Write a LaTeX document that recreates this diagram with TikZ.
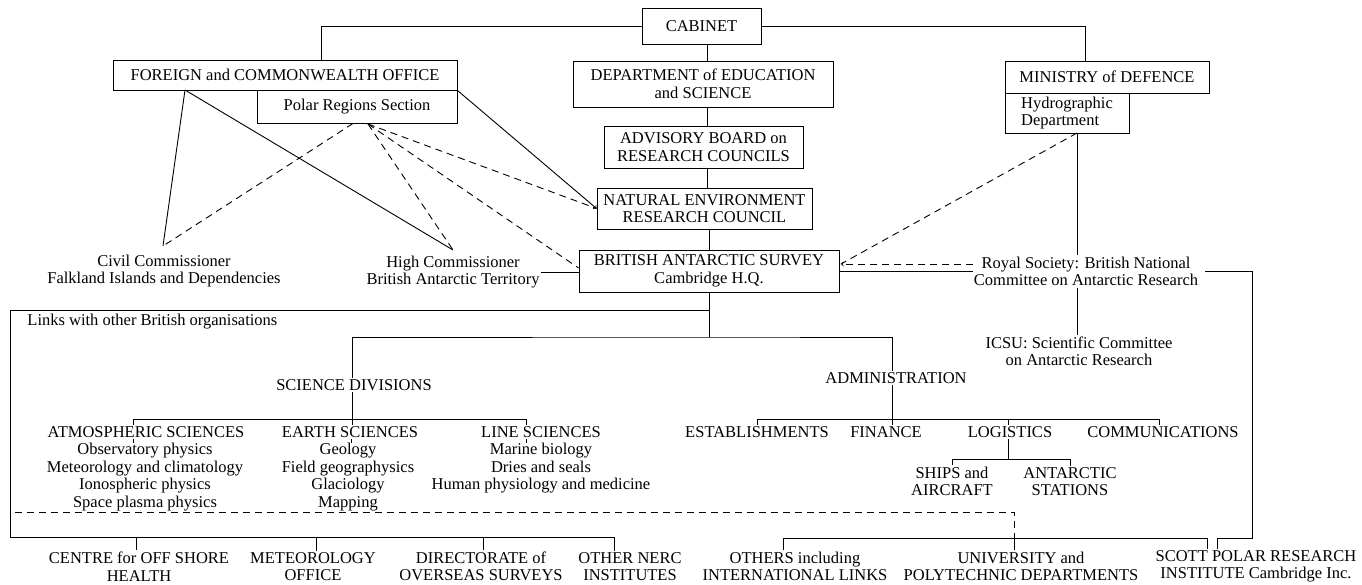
\documentclass[tikz,border=0pt]{standalone}
\usepackage{fontspec}
\setmainfont{Liberation Serif}
\usepackage{tikz}

\begin{document}
\begin{tikzpicture}[x=1pt,y=-1pt,>=to,line width=0.9pt,
		every node/.style={font=\fontsize{16.5}{17.5}\selectfont},
		box/.style={draw,align=center,inner sep=0pt},
		lbl/.style={align=center,inner sep=1pt},
		link/.style={dash pattern=on 7pt off 5pt}]
			\useasboundingbox (0,0) rectangle (1362,585);
			%%%	Government
			\node[box,minimum width=119pt,minimum height=36pt] (cab) at (701.5,26) {CABINET};
			\node[box,minimum width=344pt,minimum height=30pt] (fco) at (285,75) {FOREIGN and COMMONWEALTH OFFICE};
			\node[box,minimum width=200pt,minimum height=33pt] (prs) at (357,106.5) {Polar Regions Section};
			\node[box,minimum width=260pt,minimum height=46pt] (des) at (703,84) {DEPARTMENT of EDUCATION\\and SCIENCE};
			\node[box,minimum width=199pt,minimum height=42pt] (abrc) at (703.5,147) {ADVISORY BOARD on\\RESEARCH COUNCILS};
			\node[box,minimum width=215pt,minimum height=41pt] (nerc) at (704.5,208.5) {NATURAL ENVIRONMENT\\RESEARCH COUNCIL};
			\node[box,minimum width=260pt,minimum height=42pt] (bas) at (709,271) {BRITISH ANTARCTIC SURVEY\\Cambridge H.Q.};
			\node[box,minimum width=204pt,minimum height=32pt] (mod) at (1107,77) {MINISTRY of DEFENCE};
			\node[box,align=left,minimum width=124pt,minimum height=40pt] (hyd) at (1067,113) {Hydrographic\\Department};
			
			\node[lbl] (civ) at (164,271) {Civil Commissioner\\Falkland Islands and Dependencies};
			\node[lbl] (hc) at (453,272) {High Commissioner\\British Antarctic Territory};
			\node[lbl] (rs) at (1086,271.5) {Royal Society: British National\\Committee on Antarctic Research};
			\node[lbl] (icsu) at (1079,351.5) {ICSU: Scientific Committee\\on Antarctic Research};
			
			%%%	Survey
			\node[lbl,anchor=west] (lnk) at (26,322) {Links with other British organisations};
			\node[lbl] (sci) at (354,385) {SCIENCE DIVISIONS};
			\node[lbl] (adm) at (896,378) {ADMINISTRATION};
			\node[lbl] (atm) at (146,432) {ATMOSPHERIC SCIENCES};
			\node[lbl] (ear) at (350,432) {EARTH SCIENCES};
			\node[lbl] (lif) at (541,432) {LINE SCIENCES};
			\node[lbl] (atmi) at (145,477) {Observatory physics\\Meteorology and climatology\\Ionospheric physics\\Space plasma physics};
			\node[lbl] (eari) at (348,477) {Geology\\Field geographysics\\Glaciology\\Mapping};
			\node[lbl] (lifi) at (541,468.5) {Marine biology\\Dries and seals\\Human physiology and medicine};
			\node[lbl] (est) at (757,432) {ESTABLISHMENTS};
			\node[lbl] (fin) at (886,432) {FINANCE};
			\node[lbl] (log) at (1010,432) {LOGISTICS};
			\node[lbl] (com) at (1163,432) {COMMUNICATIONS};
			\node[lbl] (shp) at (952,481.5) {SHIPS and\\AIRCRAFT};
			\node[lbl] (ant) at (1070,481.5) {ANTARCTIC\\STATIONS};
			
			%%%	Other organisations
			\node[lbl] (cen) at (139,566.5) {CENTRE for OFF SHORE\\HEALTH};
			\node[lbl] (met) at (313,566.5) {METEOROLOGY\\OFFICE};
			\node[lbl] (dir) at (481,566.5) {DIRECTORATE of\\OVERSEAS SURVEYS};
			\node[lbl] (oth) at (630,566.5) {OTHER NERC\\INSTITUTES};
			\node[lbl] (intl) at (795,566.5) {OTHERS including\\INTERNATIONAL LINKS};
			\node[lbl] (uni) at (1021,566.5) {UNIVERSITY and\\POLYTECHNIC DEPARTMENTS};
			\node[lbl] (spri) at (1256,566.5) {SCOTT POLAR RESEARCH\\INSTITUTE Cambridge Inc.};
			
			%%%	Lines
			\coordinate (fcotop) at (321,60);
			\coordinate (modtop) at (1085,61);
			\coordinate (fcofoot) at (185,90);
			\coordinate (prsfoot) at (368,124);
			\coordinate (civtop) at (163,246);
			\coordinate (hctop) at (453,250);
			\coordinate (hydfoot) at (1077,133);
			\coordinate (basr) at (841,264);
			\coordinate (split) at (709,337);
			\coordinate (ftl) at (10,310);
			\coordinate (fbl) at (10,537);
			\coordinate (rbl) at (783,538);
			
			\draw (cab.west) -| (fcotop);
			\draw (cab.east) -| (modtop);
			\draw (cab.south -| 707,0) -- (des.north -| 707,0);
			\draw (des.south -| 707,0) -- (abrc.north -| 707,0);
			\draw (abrc.south -| 707,0) -- (nerc.north -| 707,0);
			\draw (nerc.south -| 709,0) -- (bas.north -| 709,0);
			
			\draw (fcofoot) -- (civtop);
			\draw (fcofoot) -- (hctop);
			\draw[->] (fco.south east) -- (nerc.west);
			\draw[link] (prs.south -| 353,0) -- (civtop);
			\draw[link] (prsfoot) -- (hctop);
			\draw[link] (prsfoot) -- (nerc.west);
			\draw[link] (prsfoot) -- ([yshift=3pt]bas.west);
			\draw (hc.east) -- (hc.east -| bas.west);
			
			\draw (hydfoot) -- (hydfoot |- rs.north);
			\draw[link] (hydfoot) -- (basr);
			\draw[link,->] (rs.west |- basr) -- (basr);
			\draw (bas.east) -- (bas.east -| rs.west);
			\draw (rs.south -| hydfoot) -- (icsu.north -| hydfoot);
			\draw ([xshift=6pt]rs.east) -| (1252,538) -| (spri.north -| 1217,0);
			
			\draw (bas.south) -- (split);
			\draw (sci.north -| 352,0) |- (split) -| (adm.north -| 892,0);
			\draw (sci.south -| 352,0) -- (ear.north -| 352,0);
			\draw (atm.north -| 133,0) -- ++(0,-6) -| (lif.north -| 526,0);
			\foreach \n/\x in {atm/133,ear/351,lif/526}
			\draw (\n.base -| \x,0) ++(0,2) -- ++(0,4);
			
			\draw (est.north) -- ++(0,-6) -| (com.north -| 1159,0);
			\draw (adm.south -| 892,0) -- (fin.north -| 892,0);
			\draw (log.north -| 1008,0) -- ++(0,-6);
			\draw (shp.north) -- ++(0,-6) coordinate (lbr) -| (ant.north);
			\draw (log.south -| 1008,0) -- (lbr -| 1008,0);
			
			\draw (bas.south |- ftl) -- (ftl) -- (fbl) -- (fbl -| 614,0) -- (oth.north -| 614,0);
			\foreach \n/\x in {cen/136,met/316,dir/483}
			\draw (\x,537) -- (\n.north -| \x,0);
			\draw (intl.north -| rbl) -- (rbl) -- (1207,538) -- (spri.north -| 1207,0);
			\draw (1014,538) -- (uni.north -| 1014,0);
			\draw[link] (15,512) -| (uni.north -| 1014,0);
		\end{tikzpicture}
\end{document}
